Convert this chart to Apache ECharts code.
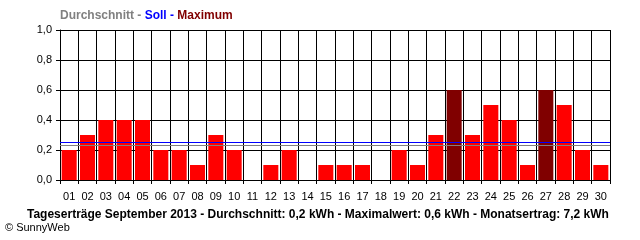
<!DOCTYPE html>
<html>
<head>
<meta charset="utf-8">
<script src="https://cdn.jsdelivr.net/npm/echarts@6/dist/echarts.min.js"></script>
<style>
html,body{margin:0;padding:0;background:#fff;}
#chart{width:640px;height:240px;}
</style>
</head>
<body>
<div id="chart"></div>
<script>
var days = ['01','02','03','04','05','06','07','08','09','10','11','12','13','14','15','16','17','18','19','20','21','22','23','24','25','26','27','28','29','30'];
var yields = [0.2,0.3,0.4,0.4,0.4,0.2,0.2,0.1,0.3,0.2,0,0.1,0.2,0,0.1,0.1,0.1,0,0.2,0.1,0.3,0.6,0.3,0.5,0.4,0.1,0.6,0.5,0.2,0.1];
var average = 0.23;
var target = 0.25;
var yTicks = [0, 0.2, 0.4, 0.6, 0.8, 1.0];
var titleText = 'Tageserträge September 2013 - Durchschnitt: 0,2 kWh - Maximalwert: 0,6 kWh - Monatsertrag: 7,2 kWh';

var maxVal = Math.max.apply(null, yields);
var barData = yields.map(function (v) {
  return { value: v, itemStyle: { color: v === maxVal ? '#800000' : '#ff0000' } };
});

var chart = echarts.init(document.getElementById('chart'), null, { renderer: 'canvas' });
var fontFam = '"Liberation Sans", Arial, sans-serif';
chart.setOption({
  animation: false,
  backgroundColor: '#ffffff',
  textStyle: { fontFamily: fontFam },
  title: [
    {
      left: 60, top: 10,
      text: '{a|Durchschnitt - }{b|Soll - }{c|Maximum}',
      textStyle: {
        rich: {
          a: { color: '#808080', fontWeight: 'bold', fontSize: 12, fontFamily: fontFam },
          b: { color: '#0000ff', fontWeight: 'bold', fontSize: 12, fontFamily: fontFam },
          c: { color: '#800000', fontWeight: 'bold', fontSize: 12, fontFamily: fontFam }
        }
      },
      padding: 0
    },
    {
      left: 27, top: 209,
      text: titleText,
      padding: 0,
      textStyle: { color: '#000', fontWeight: 'bold', fontSize: 12, fontFamily: fontFam }
    },
    {
      left: 5, top: 222,
      text: '© SunnyWeb',
      padding: 0,
      textStyle: { color: '#000', fontWeight: 'normal', fontSize: 11, fontFamily: fontFam }
    }
  ],
  grid: { left: 60, top: 30, right: 30, bottom: 60, containLabel: false },
  xAxis: {
    type: 'category',
    data: days,
    boundaryGap: true,
    axisLine: { show: true, lineStyle: { color: '#000', width: 1 } },
    axisTick: { show: true, length: 4, alignWithLabel: false, lineStyle: { color: '#000' } },
    axisLabel: { color: '#000', fontSize: 11, margin: 11, interval: 0, fontFamily: fontFam },
    splitLine: { show: true, interval: 0, lineStyle: { color: '#000', width: 1 } }
  },
  yAxis: {
    type: 'value',
    min: yTicks[0],
    max: yTicks[yTicks.length - 1],
    interval: 0.2,
    axisLine: { show: true, lineStyle: { color: '#000', width: 1 } },
    axisTick: { show: true, length: 4, lineStyle: { color: '#000' } },
    axisLabel: {
      color: '#000', fontSize: 11, margin: 8, fontFamily: fontFam,
      formatter: function (v) { return v.toFixed(1).replace('.', ','); }
    },
    splitLine: { show: true, lineStyle: { color: '#000', width: 1 } }
  },
  series: [
    {
      type: 'bar',
      data: barData,
      barCategoryGap: '18%',
      markLine: {
        silent: true,
        symbol: 'none',
        label: { show: false },
        z: 10,
        data: [
          { yAxis: average, lineStyle: { color: '#808080', width: 1, type: 'solid' } },
          { yAxis: target, lineStyle: { color: '#0000ff', width: 1, type: 'solid' } }
        ]
      }
    }
  ]
});
</script>
</body>
</html>
